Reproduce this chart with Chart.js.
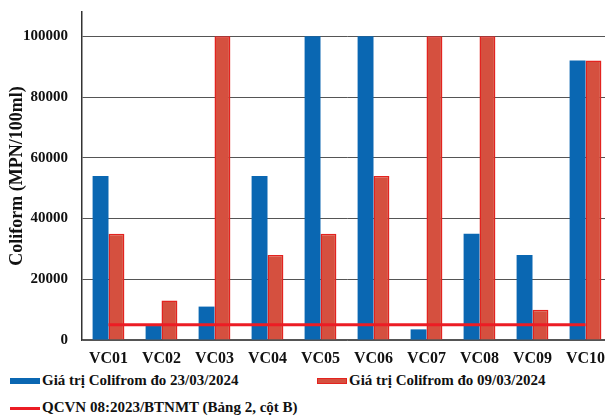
<!DOCTYPE html>
<html>
<head>
<meta charset="utf-8">
<script src="https://cdn.jsdelivr.net/npm/chart.js@4/dist/chart.umd.min.js"></script>
<style>
  html, body { margin: 0; padding: 0; background: #ffffff; overflow: hidden; width: 605px; height: 418px; }
  #wrap { position: absolute; left: 0; top: 0; width: 612px; height: 370px; }
  .leg { position: absolute; font-family: "Liberation Serif", "DejaVu Serif", serif; font-weight: bold; font-size: 15px; color: #111; white-space: nowrap; line-height: 17px; }
  .leg .sw { position: absolute; left: 0; }
  .leg .tx { position: absolute; left: 32px; top: 0; }
</style>
</head>
<body>
<div id="wrap"><canvas id="c"></canvas></div>
<div id="leg1" class="leg" style="left:10px; top:372px;"><span class="sw"></span><span class="tx"></span></div>
<div id="leg2" class="leg" style="left:317px; top:372px;"><span class="sw"></span><span class="tx"></span></div>
<div id="leg3" class="leg" style="left:10px; top:399px;"><span class="sw"></span><span class="tx"></span></div>
<script>
// Sampling points along the canal
const stations = ['VC01', 'VC02', 'VC03', 'VC04', 'VC05', 'VC06', 'VC07', 'VC08', 'VC09', 'VC10'];

// Coliform (MPN/100ml), sampling of 23/03/2024
const coliform2303 = [54000, 4600, 11000, 54000, 100000, 100000, 3500, 35000, 28000, 92000];

// Coliform (MPN/100ml), sampling of 09/03/2024
const coliform0903 = [35000, 13000, 100000, 28000, 35000, 54000, 100000, 100000, 10000, 92000];

// Limit from QCVN 08:2023/BTNMT, Table 2, column B
const qcvnLimit = [5000, 5000, 5000, 5000, 5000, 5000, 5000, 5000, 5000, 5000];

// Y axis tick values
const yTicks = [0, 20000, 40000, 60000, 80000, 100000];

const seriesLabels = [
  'Giá trị Colifrom đo 23/03/2024',
  'Giá trị Colifrom đo 09/03/2024',
  'QCVN 08:2023/BTNMT (Bảng 2, cột B)'
];

const BLUE = '#0a67b2';
const RED_FILL = '#d5503f';
const RED_EDGE = '#e3231f';
const LINE_RED = '#ec1c24';

const serif = '"Liberation Serif", "DejaVu Serif", serif';

const canvas = document.getElementById('c');
canvas.width = 612; canvas.height = 370;

new Chart(canvas, {
  type: 'bar',
  data: {
    labels: stations,
    datasets: [
      {
        type: 'line',
        label: seriesLabels[2],
        data: qcvnLimit,
        borderColor: LINE_RED,
        borderWidth: 3,
        pointRadius: 0,
        fill: false,
        order: -1
      },
      {
        label: seriesLabels[0],
        data: coliform2303,
        backgroundColor: BLUE,
        borderWidth: 0,
        categoryPercentage: 0.6,
        barPercentage: 1.0,
        order: 1
      },
      {
        label: seriesLabels[1],
        data: coliform0903,
        backgroundColor: RED_FILL,
        borderColor: RED_EDGE,
        borderWidth: 1.5,
        borderSkipped: 'bottom',
        categoryPercentage: 0.6,
        barPercentage: 1.0,
        order: 1
      }
    ]
  },
  options: {
    responsive: false,
    animation: false,
    devicePixelRatio: 1,
    layout: { padding: { top: 12, left: 0, right: 0, bottom: 0 } },
    plugins: {
      legend: { display: false },
      tooltip: { enabled: false }
    },
    scales: {
      x: {
        afterFit: (scale) => { scale.height = 30; scale.paddingLeft = 0; scale.paddingRight = 0; },
        grid: { display: false, drawTicks: false },
        border: { display: true, color: '#555', width: 1.2 },
        ticks: {
          color: '#111',
          padding: 9,
          maxRotation: 0,
          font: { family: serif, weight: 'bold', size: 16 }
        }
      },
      y: {
        min: 0,
        max: 108000,
        afterFit: (scale) => { scale.width = 82; scale.paddingTop = 0; scale.paddingBottom = 0; },
        afterBuildTicks: (axis) => { axis.ticks = yTicks.map(v => ({ value: v })); },
        grid: { color: '#555', lineWidth: 1, drawTicks: false },
        border: { display: true, color: '#333', width: 1.5 },
        ticks: {
          color: '#111',
          padding: 14,
          font: { family: serif, weight: 'bold', size: 15 },
          callback: (v) => String(v)
        },
        title: {
          display: true,
          text: 'Coliform (MPN/100ml)',
          color: '#111',
          padding: { top: 7, bottom: 4 },
          font: { family: serif, weight: 'bold', size: 18 }
        }
      }
    }
  }
});

// Legend built from the series labels and colours
function legendItem(id, label, kind, color, edge) {
  const el = document.getElementById(id);
  const sw = el.querySelector('.sw');
  const tx = el.querySelector('.tx');
  tx.textContent = label;
  sw.style.width = '30px';
  sw.style.background = color;
  if (kind === 'box') {
    sw.style.top = '6px';
    sw.style.height = '6px';
    if (edge) { sw.style.boxSizing = 'border-box'; sw.style.border = '1px solid ' + edge; }
  } else {
    sw.style.top = '8px';
    sw.style.height = '3px';
  }
}
legendItem('leg1', seriesLabels[0], 'box', BLUE);
legendItem('leg2', seriesLabels[1], 'box', RED_FILL, RED_EDGE);
legendItem('leg3', seriesLabels[2], 'line', LINE_RED);
</script>
</body>
</html>
